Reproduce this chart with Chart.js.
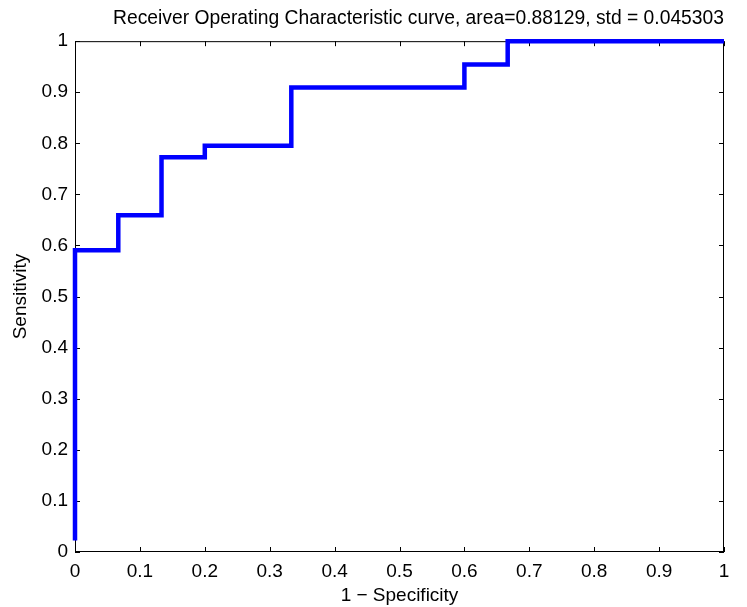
<!DOCTYPE html>
<html>
<head>
<meta charset="utf-8">
<script src="https://cdn.jsdelivr.net/npm/chart.js@4.4.1/dist/chart.umd.min.js"></script>
<style>
  html, body { margin: 0; padding: 0; background: #fff; }
  #wrap { width: 747px; height: 607px; }
</style>
</head>
<body>
<div id="wrap"><canvas id="rocChart"></canvas></div>
<script>
// ROC corner points (15 negatives, 44 positives)
const fpr = [0, 0, 0.0667, 0.1333, 0.2, 0.3333, 0.6, 0.6667, 1];
const tpr = [0.0227, 0.5909, 0.6591, 0.7727, 0.7955, 0.9091, 0.9545, 1, 1];
const tickValues = [0, 0.1, 0.2, 0.3, 0.4, 0.5, 0.6, 0.7, 0.8, 0.9, 1];

const titleText = 'Receiver Operating Characteristic curve, area=0.88129, std = 0.045303';
const xLabel = '1 \u2212 Specificity';
const yLabel = 'Sensitivity';

const points = [];
for (let i = 0; i < fpr.length; i++) {
    points.push({x: fpr[i], y: tpr[i]});
}

const fontFam = '"Liberation Sans", Arial, sans-serif';
const fontSize = 19;

function fmtTick(v) {
    return String(Number(v.toFixed(2)));
}

// box round the axes with inward ticks on all sides
const framePlugin = {
    id: 'frame',
    beforeDatasetsDraw(chart) {
        const c = chart.ctx;
        const a = chart.chartArea;
        const xs = chart.scales.x, ys = chart.scales.y;
        const len = 5;
        c.save();
        c.strokeStyle = '#000';
        c.lineWidth = 1;
        c.strokeRect(a.left + 0.5, a.top + 0.5, a.right - a.left - 1, a.bottom - a.top - 1);
        c.beginPath();
        tickValues.forEach(v => {
            const px = Math.round(xs.getPixelForValue(v)) + 0.5;
            c.moveTo(px, a.bottom); c.lineTo(px, a.bottom - len);
            c.moveTo(px, a.top); c.lineTo(px, a.top + len);
            const py = Math.round(ys.getPixelForValue(v)) + 0.5;
            c.moveTo(a.left, py); c.lineTo(a.left + len, py);
            c.moveTo(a.right, py); c.lineTo(a.right - len, py);
        });
        c.stroke();
        c.restore();
    }
};

const ctx = document.getElementById('rocChart').getContext('2d');
const myChart = new Chart(ctx, {
    type: 'scatter',
    data: {
        datasets: [{
            data: points,
            showLine: true,
            stepped: 'before',
            borderColor: '#0000ff',
            borderWidth: 4.5,
            pointRadius: 0,
            clip: false
        }]
    },
    options: {
        responsive: true,
        maintainAspectRatio: false,
        animation: false,
        layout: {
            padding: {left: 0, right: 23, top: 0, bottom: 0}
        },
        plugins: {
            legend: { display: false },
            tooltip: { enabled: false },
            title: {
                display: true,
                text: titleText,
                align: 'end',
                color: '#000',
                font: { family: fontFam, size: 19.3, weight: 'normal' },
                padding: { top: 7, bottom: 11 }
            }
        },
        scales: {
            x: {
                type: 'linear',
                min: 0,
                max: 1,
                afterBuildTicks(scale) {
                    scale.ticks = tickValues.map(v => ({value: v}));
                },
                afterFit(scale) { scale.height = 55; },
                grid: { drawOnChartArea: false, drawTicks: false },
                border: { display: false },
                ticks: {
                    color: '#000',
                    padding: 8,
                    maxRotation: 0,
                    callback: fmtTick,
                    font: { family: fontFam, size: fontSize }
                },
                title: {
                    display: true,
                    text: xLabel,
                    color: '#000',
                    font: { family: fontFam, size: fontSize },
                    padding: { top: 0, bottom: 0 }
                }
            },
            y: {
                type: 'linear',
                min: 0,
                max: 1,
                afterBuildTicks(scale) {
                    scale.ticks = tickValues.map(v => ({value: v}));
                },
                afterFit(scale) { scale.width = 75; },
                grid: { drawOnChartArea: false, drawTicks: false },
                border: { display: false },
                ticks: {
                    color: '#000',
                    padding: 7,
                    callback: fmtTick,
                    font: { family: fontFam, size: fontSize }
                },
                title: {
                    display: true,
                    text: yLabel,
                    color: '#000',
                    font: { family: fontFam, size: fontSize },
                    padding: { top: 9, bottom: 0 }
                }
            }
        }
    },
    plugins: [framePlugin]
});
</script>
</body>
</html>
